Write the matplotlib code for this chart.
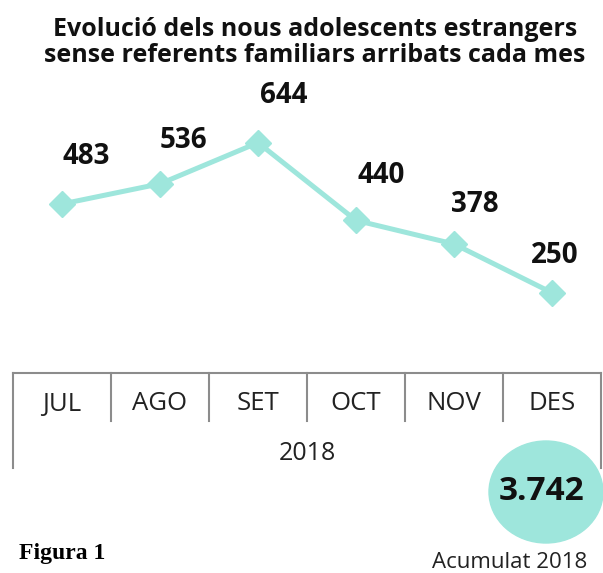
import matplotlib
matplotlib.use('Agg')
import matplotlib.pyplot as plt
from matplotlib.patches import Ellipse

months = ['JUL', 'AGO', 'SET', 'OCT', 'NOV', 'DES']
arrivals = [483, 536, 644, 440, 378, 250]
year_label = '2018'
total_2018 = 3742

# label offsets in pixels (dx, dy) from each point
label_off = [(24, 47), (23, 43), (26, 47), (25, 45), (21, 40), (3, 37)]

teal = '#9EE6DC'
grid_col = '#8c8c8c'
txt_col = '#222222'

plt.rcParams['font.family'] = ['Open Sans', 'DejaVu Sans']
bold = dict(fontweight='bold', fontstretch='normal', color='#111111')

fig = plt.figure(figsize=(6.03, 5.73), dpi=100)

# background axes in pixel coordinates for the table part
bg = fig.add_axes([0, 0, 1, 1])
bg.set_xlim(0, 603)
bg.set_ylim(573, 0)
bg.axis('off')

# line chart
ax = fig.add_axes([13/603, 1 - 340/573, 588/603, 240/573])
ax.set_xlim(-0.5, len(months) - 0.5)
ax.set_ylim(126, 756)
ax.axis('off')
x = list(range(len(months)))
ax.plot(x, arrivals, color=teal, lw=3.6, marker='D', ms=13, mec=teal, mfc=teal, zorder=3)
for i, v in enumerate(arrivals):
    ax.annotate(str(v), (i, v), xytext=label_off[i], textcoords='offset pixels',
                ha='center', va='center', fontsize=20, **bold)

# table
left, col_w, top = 13, 98, 373
bg.plot([left, left + col_w * len(months)], [top, top], color=grid_col, lw=1.5)
for k in range(len(months) + 1):
    xb = left + col_w * k
    if k == 0 or k == len(months):
        bg.plot([xb, xb], [top, 468], color=grid_col, lw=1.5)
    else:
        bg.plot([xb, xb], [top, 421], color=grid_col, lw=1.5)
for i, m in enumerate(months):
    bg.text(left + col_w * (i + 0.5), 404, m, ha='center', va='center',
            fontsize=18.5, color=txt_col)
bg.text(left + col_w * len(months) / 2, 453, year_label, ha='center', va='center',
        fontsize=18, color=txt_col)

# accumulated total bubble
bg.add_patch(Ellipse((546, 492), 114, 102, color=teal, zorder=5))
bg.text(541, 491, f'{total_2018:,}'.replace(',', '.'), ha='center', va='center',
        fontsize=24, zorder=6, **bold)
bg.text(510, 562, 'Acumulat ' + year_label, ha='center', va='center',
        fontsize=16, color=txt_col)

# title
bg.text(315, 30, 'Evolució dels nous adolescents estrangers', ha='center', va='center',
        fontsize=18, **bold)
bg.text(315, 55, 'sense referents familiars arribats cada mes', ha='center', va='center',
        fontsize=18, **bold)

bg.text(19, 554, 'Figura 1', ha='left', va='center', fontsize=17,
        fontweight='bold', family='Liberation Serif', color='#000000')

fig.savefig('out.png', dpi=100)
